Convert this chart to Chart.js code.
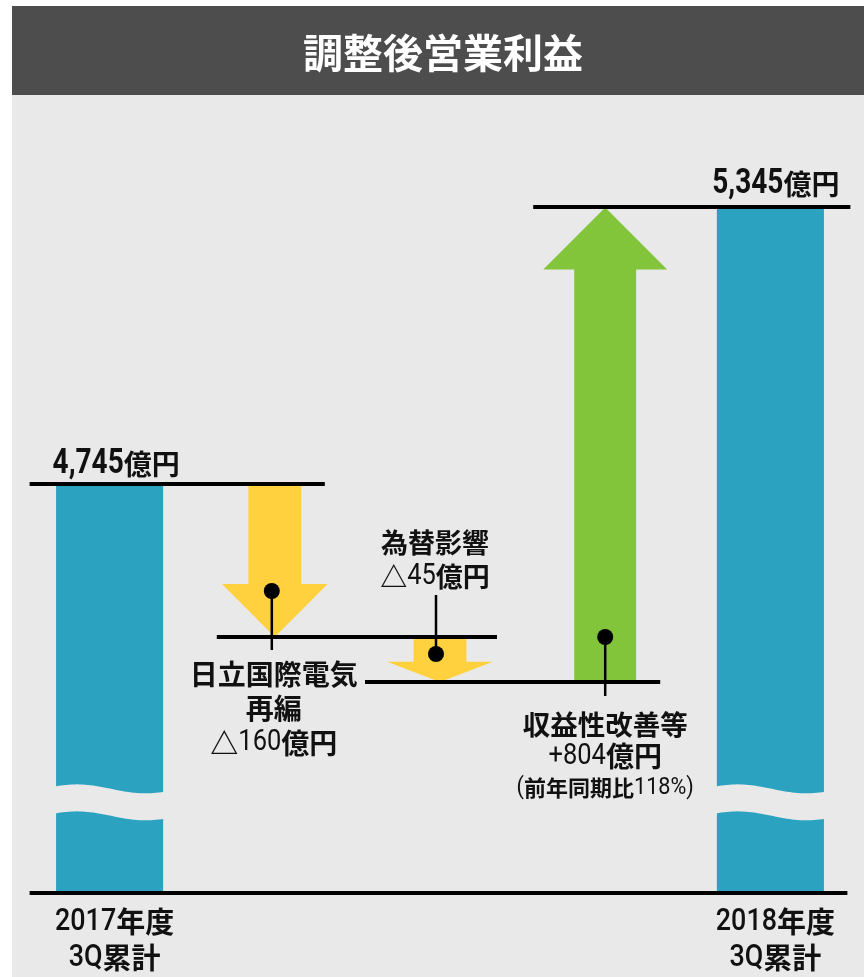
<!DOCTYPE html>
<html>
<head>
<meta charset="utf-8">
<script src="https://cdn.jsdelivr.net/npm/chart.js@4"></script>
<style>
  html, body { margin: 0; padding: 0; background: #ffffff; }
  canvas { display: block; }
</style>
</head>
<body>
<canvas id="profitCanvas" width="864" height="977"></canvas>
<script>
// data
const categories = [
  ["2017年度", "3Q累計"],
  ["日立国際電気", "再編"],
  ["為替影響"],
  ["収益性改善等"],
  ["2018年度", "3Q累計"],
];
const startTotal = 4745;
const endTotal = 5345;
const changes = [-160, -45, 804];
const yoyPercent = 118;

// colors
const BLUE = "#2ba2bf";
const YELLOW = "#ffd13f";
const GREEN = "#82c43a";
const PANEL = "#e9e9e9";
const HEADER = "#4d4d4d";

// build the waterfall steps from the changes
let running = startTotal;
const steps = changes.map(function (c) {
  const from = running;
  running += c;
  return [from, running];
});
const totalsData = [startTotal, null, null, null, endTotal];
const decreaseData = [null].concat(steps.map(s => (s[1] < s[0] ? s : null)), [null]);
const increaseData = [null].concat(steps.map(s => (s[1] > s[0] ? s : null)), [null]);

function fmtTotal(v) {
  return v.toLocaleString("en-US") + "億円";
}
function fmtChange(v) {
  return (v < 0 ? "△" + Math.abs(v) : "+" + v) + "億円";
}

// the picture is not drawn to scale: value -> share of the plot height
const yKnots = [
  [0, 0],
  [4540, 0.3076],
  [4585, 0.3732],
  [4745, 0.5962],
  [5345, 1],
];
function valueToDecimal(v) {
  let i = 1;
  while (i < yKnots.length - 1 && v > yKnots[i][0]) i++;
  const a = yKnots[i - 1], b = yKnots[i];
  return a[1] + ((v - a[0]) / (b[0] - a[0])) * (b[1] - a[1]);
}
function decimalToValue(d) {
  let i = 1;
  while (i < yKnots.length - 1 && d > yKnots[i][1]) i++;
  const a = yKnots[i - 1], b = yKnots[i];
  return a[0] + ((d - a[1]) / (b[1] - a[1])) * (b[0] - a[0]);
}

class SegmentScale extends Chart.LinearScale {
  static id = "segment";
  static defaults = { ticks: { callback: (v) => v } };
  getPixelForValue(value) {
    if (value === null || value === undefined || isNaN(value)) return NaN;
    return this.getPixelForDecimal(valueToDecimal(value));
  }
  getValueForPixel(pixel) {
    return decimalToValue(this.getDecimalForPixel(pixel));
  }
}
Chart.register(SegmentScale);

// mixed text: latin runs in condensed Roboto, the rest in Noto Sans CJK
function drawMixed(ctx, text, x, y, o) {
  const runs = text.match(/[\x20-\x7E]+|[^\x20-\x7E]+/g);
  const latinFont = (o.lw || "bold") + " " + o.ls + 'px Roboto, "DejaVu Sans"';
  const cjkFont = "bold " + o.cs + 'px "Noto Sans CJK JP"';
  const parts = runs.map(function (r) {
    const latin = /^[\x20-\x7E]+$/.test(r);
    ctx.font = latin ? latinFont : cjkFont;
    const w = ctx.measureText(r).width * (latin ? o.sx : 1);
    return { r: r, latin: latin, w: w };
  });
  const total = parts.reduce((s, p) => s + p.w, 0);
  let cx = x;
  if (o.align === "center") cx = x - total / 2;
  if (o.align === "right") cx = x - total;
  ctx.save();
  ctx.fillStyle = o.color || "#111111";
  ctx.textBaseline = "middle";
  ctx.textAlign = "left";
  parts.forEach(function (p) {
    ctx.save();
    ctx.font = p.latin ? latinFont : cjkFont;
    ctx.translate(cx, y);
    if (p.latin) ctx.scale(o.sx, 1);
    ctx.fillText(p.r, 0, 0);
    ctx.restore();
    cx += p.w;
  });
  ctx.restore();
}

const totalStyle = { ls: 35, sx: 0.8, cs: 28 };
const catStyle = { ls: 32, lw: "500", sx: 0.84, cs: 29, align: "center" };
const amountStyle = { ls: 30, lw: "normal", sx: 0.85, cs: 28, align: "center" };

const diagramPlugin = {
  id: "diagram",
  beforeDraw(chart) {
    const ctx = chart.ctx;
    ctx.save();
    ctx.fillStyle = "#ffffff";
    ctx.fillRect(0, 0, chart.width, chart.height);
    ctx.fillStyle = PANEL;
    ctx.fillRect(12, 95, chart.width - 12, chart.height - 95);
    ctx.fillStyle = HEADER;
    ctx.fillRect(12, 6, chart.width - 12, 89);
    ctx.fillStyle = "#ffffff";
    ctx.font = 'bold 40px "Noto Sans CJK JP"';
    ctx.textAlign = "center";
    ctx.textBaseline = "middle";
    ctx.fillText("調整後営業利益", 443, 53);
    ctx.restore();
  },
  beforeDatasetDraw(chart, args) {
    const ds = chart.data.datasets[args.index];
    if (!ds.arrow) return;
    const ctx = chart.ctx;
    const yScale = chart.scales.y;
    ctx.save();
    ctx.fillStyle = ds.backgroundColor;
    args.meta.data.forEach(function (el, i) {
      const d = ds.data[i];
      if (d === null) return;
      const p = el.getProps(["x", "width"], true);
      const from = yScale.getPixelForValue(d[0]);
      const to = yScale.getPixelForValue(d[1]);
      const dir = to > from ? 1 : -1;
      const len = Math.abs(to - from);
      const hw = p.width / 2;
      const hl = Math.min(p.width, len * 0.45);
      const neck = to - dir * hl;
      ctx.beginPath();
      ctx.moveTo(p.x - hw, from);
      ctx.lineTo(p.x + hw, from);
      ctx.lineTo(p.x + hw, neck);
      ctx.lineTo(p.x + p.width, neck);
      ctx.lineTo(p.x, to);
      ctx.lineTo(p.x - p.width, neck);
      ctx.lineTo(p.x - hw, neck);
      ctx.closePath();
      ctx.fill();
    });
    ctx.restore();
    return false;
  },
  afterDatasetsDraw(chart) {
    const ctx = chart.ctx;
    const xs = (i) => chart.scales.x.getPixelForValue(i);
    const ys = (v) => chart.scales.y.getPixelForValue(v);

    // axis break on the total bars
    const totalsMeta = chart.getDatasetMeta(0);
    const c = ys(1950);
    totalsMeta.data.forEach(function (el, i) {
      if (totalsData[i] === null) return;
      const p = el.getProps(["x", "width"], true);
      const l = p.x - p.width / 2 - 1, r = p.x + p.width / 2 + 1;
      const wave = (t) => -4.5 * Math.cos((Math.PI * (t - 0.2)) / 0.63);
      ctx.save();
      ctx.fillStyle = PANEL;
      ctx.beginPath();
      for (let k = 0; k <= 40; k++) {
        const t = k / 40;
        const px = l + t * (r - l);
        const py = c - 13.5 + wave(t);
        if (k === 0) ctx.moveTo(px, py); else ctx.lineTo(px, py);
      }
      for (let k = 40; k >= 0; k--) {
        const t = k / 40;
        ctx.lineTo(l + t * (r - l), c + 13.5 + wave(t));
      }
      ctx.closePath();
      ctx.fill();
      ctx.restore();
    });

    // level lines
    const levels = [
      { v: 0, x1: xs(0) - 80, x2: xs(4) + 77 },
      { v: startTotal, x1: xs(0) - 80, x2: xs(1) + 50 },
      { v: steps[0][1], x1: xs(1) - 58, x2: xs(2) + 57 },
      { v: steps[1][1], x1: xs(2) - 75, x2: xs(3) + 55 },
      { v: endTotal, x1: xs(3) - 72, x2: xs(4) + 80 },
    ];
    ctx.save();
    ctx.strokeStyle = "#000000";
    ctx.lineWidth = 4;
    levels.forEach(function (L) {
      const y = Math.round(ys(L.v));
      ctx.beginPath();
      ctx.moveTo(L.x1, y);
      ctx.lineTo(L.x2, y);
      ctx.stroke();
    });
    ctx.restore();

    // total labels
    drawMixed(ctx, fmtTotal(startTotal), xs(0) - 57, ys(startTotal) - 19.5, Object.assign({ align: "left" }, totalStyle));
    drawMixed(ctx, fmtTotal(endTotal), xs(4) + 69, ys(endTotal) - 22.5, Object.assign({ align: "right" }, totalStyle));

    // category labels under the baseline
    [0, 4].forEach(function (i) {
      categories[i].forEach(function (line, k) {
        drawMixed(ctx, line, xs(i) + 5, ys(0) + 28.5 + k * 36, catStyle);
      });
    });

    // pins and change labels
    function pin(x, dotY, stemY) {
      ctx.save();
      ctx.strokeStyle = "#000000";
      ctx.lineWidth = 2.5;
      ctx.beginPath();
      ctx.moveTo(x, dotY);
      ctx.lineTo(x, stemY);
      ctx.stroke();
      ctx.fillStyle = "#000000";
      ctx.beginPath();
      ctx.arc(x, dotY, 8, 0, Math.PI * 2);
      ctx.fill();
      ctx.restore();
    }

    // 日立国際電気再編
    const e0 = ys(steps[0][1]);
    pin(xs(1) - 3, e0 - 46, e0 + 13);
    drawMixed(ctx, categories[1][0], xs(1) - 1, e0 + 37, { ls: 28, sx: 1, cs: 28, align: "center" });
    drawMixed(ctx, categories[1][1], xs(1) - 1, e0 + 71.5, { ls: 28, sx: 1, cs: 28, align: "center" });
    drawMixed(ctx, fmtChange(changes[0]), xs(1) - 1, e0 + 106, amountStyle);

    // 為替影響
    const e1 = ys(steps[1][1]);
    pin(xs(2) - 4, e1 - 28, e1 - 87);
    drawMixed(ctx, categories[2][0], xs(2) - 5, e1 - 139.5, { ls: 27, sx: 1, cs: 27, align: "center" });
    drawMixed(ctx, fmtChange(changes[1]), xs(2) - 5, e1 - 105, Object.assign({}, amountStyle, { cs: 27 }));

    // 収益性改善等
    const s2 = ys(steps[2][0]);
    pin(xs(3), s2 - 45, s2 + 14);
    drawMixed(ctx, categories[3][0], xs(3), s2 + 43, { ls: 27, sx: 1, cs: 27.5, align: "center" });
    drawMixed(ctx, fmtChange(changes[2]), xs(3), s2 + 74.5, amountStyle);
    drawMixed(ctx, "(前年同期比" + yoyPercent + "%)", xs(3), s2 + 106, { ls: 24, lw: "normal", sx: 0.9, cs: 22, align: "center" });
  },
};

const ctx = document.getElementById("profitCanvas").getContext("2d");
new Chart(ctx, {
  type: "bar",
  data: {
    labels: categories.map(c => c.join("")),
    datasets: [
      {
        label: "Total",
        data: totalsData,
        backgroundColor: BLUE,
        barPercentage: 0.648,
        categoryPercentage: 1,
      },
      {
        label: "Decrease",
        data: decreaseData,
        backgroundColor: YELLOW,
        barPercentage: 0.32,
        categoryPercentage: 1,
        arrow: true,
      },
      {
        label: "Increase",
        data: increaseData,
        backgroundColor: GREEN,
        barPercentage: 0.375,
        categoryPercentage: 1,
        arrow: true,
      },
    ],
  },
  options: {
    responsive: false,
    animation: false,
    layout: { padding: { top: 207, bottom: 84, left: 27, right: 11 } },
    plugins: {
      legend: { display: false },
      tooltip: { enabled: false },
    },
    scales: {
      x: { stacked: true, display: false, grid: { display: false } },
      y: { type: "segment", display: false, min: 0, max: endTotal },
    },
  },
  plugins: [diagramPlugin],
});
</script>
</body>
</html>
